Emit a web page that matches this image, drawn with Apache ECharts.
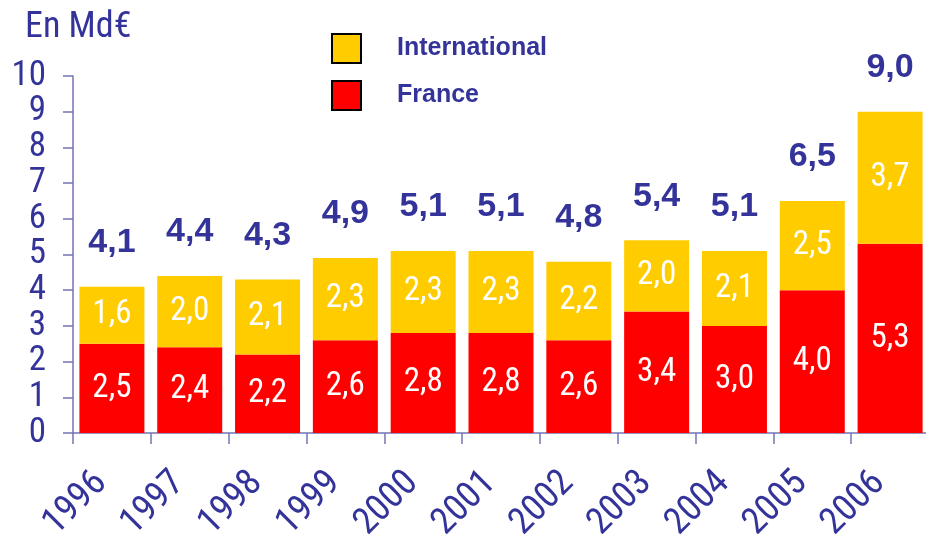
<!DOCTYPE html>
<html>
<head>
<meta charset="utf-8">
<script src="https://cdn.jsdelivr.net/npm/echarts@6/dist/echarts.min.js"></script>
<style>
html,body{margin:0;padding:0;background:#fff;}
#main{width:926px;height:536px;}
</style>
</head>
<body>
<div id="main"></div>
<script>
// données
var years = ['1996','1997','1998','1999','2000','2001','2002','2003','2004','2005','2006'];
var france = [2.5, 2.4, 2.2, 2.6, 2.8, 2.8, 2.6, 3.4, 3.0, 4.0, 5.3];
var international = [1.6, 2.0, 2.1, 2.3, 2.3, 2.3, 2.2, 2.0, 2.1, 2.5, 3.7];
var totals = [4.1, 4.4, 4.3, 4.9, 5.1, 5.1, 4.8, 5.4, 5.1, 6.5, 9.0];

var blue = '#333399';
var axisColor = '#7474b4';
var narrow = 'Roboto Condensed';

function fr(v){ return Number(v).toFixed(1).replace('.', ','); }

var chart = echarts.init(document.getElementById('main'));

var option = {
    backgroundColor: '#fff',
    animation: false,
    title: {
        text: 'En Md€',
        left: 20,
        top: 5,
        textStyle: {color: blue, fontSize: 36, fontWeight: 'normal', fontFamily: narrow}
    },
    legend: {
        data: ['International', 'France'],
        orient: 'vertical',
        left: 326,
        top: 28,
        itemWidth: 29,
        itemHeight: 29,
        itemGap: 16,
        icon: 'rect',
        itemStyle: {borderColor: '#000', borderWidth: 2},
        textStyle: {color: blue, fontSize: 25, fontWeight: 'bold', fontFamily: 'Liberation Sans', padding: [0, 0, 0, 31]}
    },
    grid: {left: 73, top: 76, width: 856, height: 357, outerBoundsMode: 'none'},
    xAxis: {
        type: 'category',
        data: years,
        axisLine: {lineStyle: {color: axisColor, width: 1.5}},
        axisTick: {show: true, length: 11, lineStyle: {color: axisColor, width: 1.5}},
        axisLabel: {
            rotate: 45,
            margin: 34,
            padding: [0, 15, 0, 0],
            color: blue,
            fontSize: 37,
            fontFamily: narrow
        }
    },
    yAxis: {
        type: 'value',
        min: 0,
        max: 10,
        interval: 1,
        splitLine: {show: false},
        axisLine: {show: true, lineStyle: {color: axisColor, width: 1.5}},
        axisTick: {show: true, length: 10, lineStyle: {color: axisColor, width: 1.5}},
        axisLabel: {margin: 27, color: blue, fontSize: 35, lineHeight: 26, textMargin: 0, fontFamily: narrow, showMinLabel: true, showMaxLabel: true, hideOverlap: false}
    },
    series: [
        {
            name: 'France',
            type: 'bar',
            stack: 'ca',
            barWidth: 65,
            data: france,
            itemStyle: {color: '#ff0000'},
            label: {
                show: true, position: 'inside', color: '#fff',
                fontSize: 33, fontFamily: narrow,
                formatter: function(p){ return fr(p.value); }
            }
        },
        {
            name: 'International',
            type: 'bar',
            stack: 'ca',
            barWidth: 65,
            data: international,
            itemStyle: {color: '#ffcc00'},
            label: {
                show: true, position: 'inside', color: '#fff',
                fontSize: 33, fontFamily: narrow,
                formatter: function(p){ return fr(p.value); }
            }
        },
        {
            // étiquettes des totaux au-dessus des barres
            name: 'Total',
            type: 'bar',
            stack: 'ca',
            barWidth: 65,
            data: totals.map(function(){ return 0; }),
            itemStyle: {color: 'rgba(0,0,0,0)'},
            label: {
                show: true, position: 'top', distance: 27,
                color: blue, fontSize: 34, fontWeight: 'bold',
                fontFamily: 'Liberation Sans',
                formatter: function(p){ return fr(totals[p.dataIndex]); }
            }
        }
    ]
};
chart.setOption(option);
</script>
</body>
</html>
